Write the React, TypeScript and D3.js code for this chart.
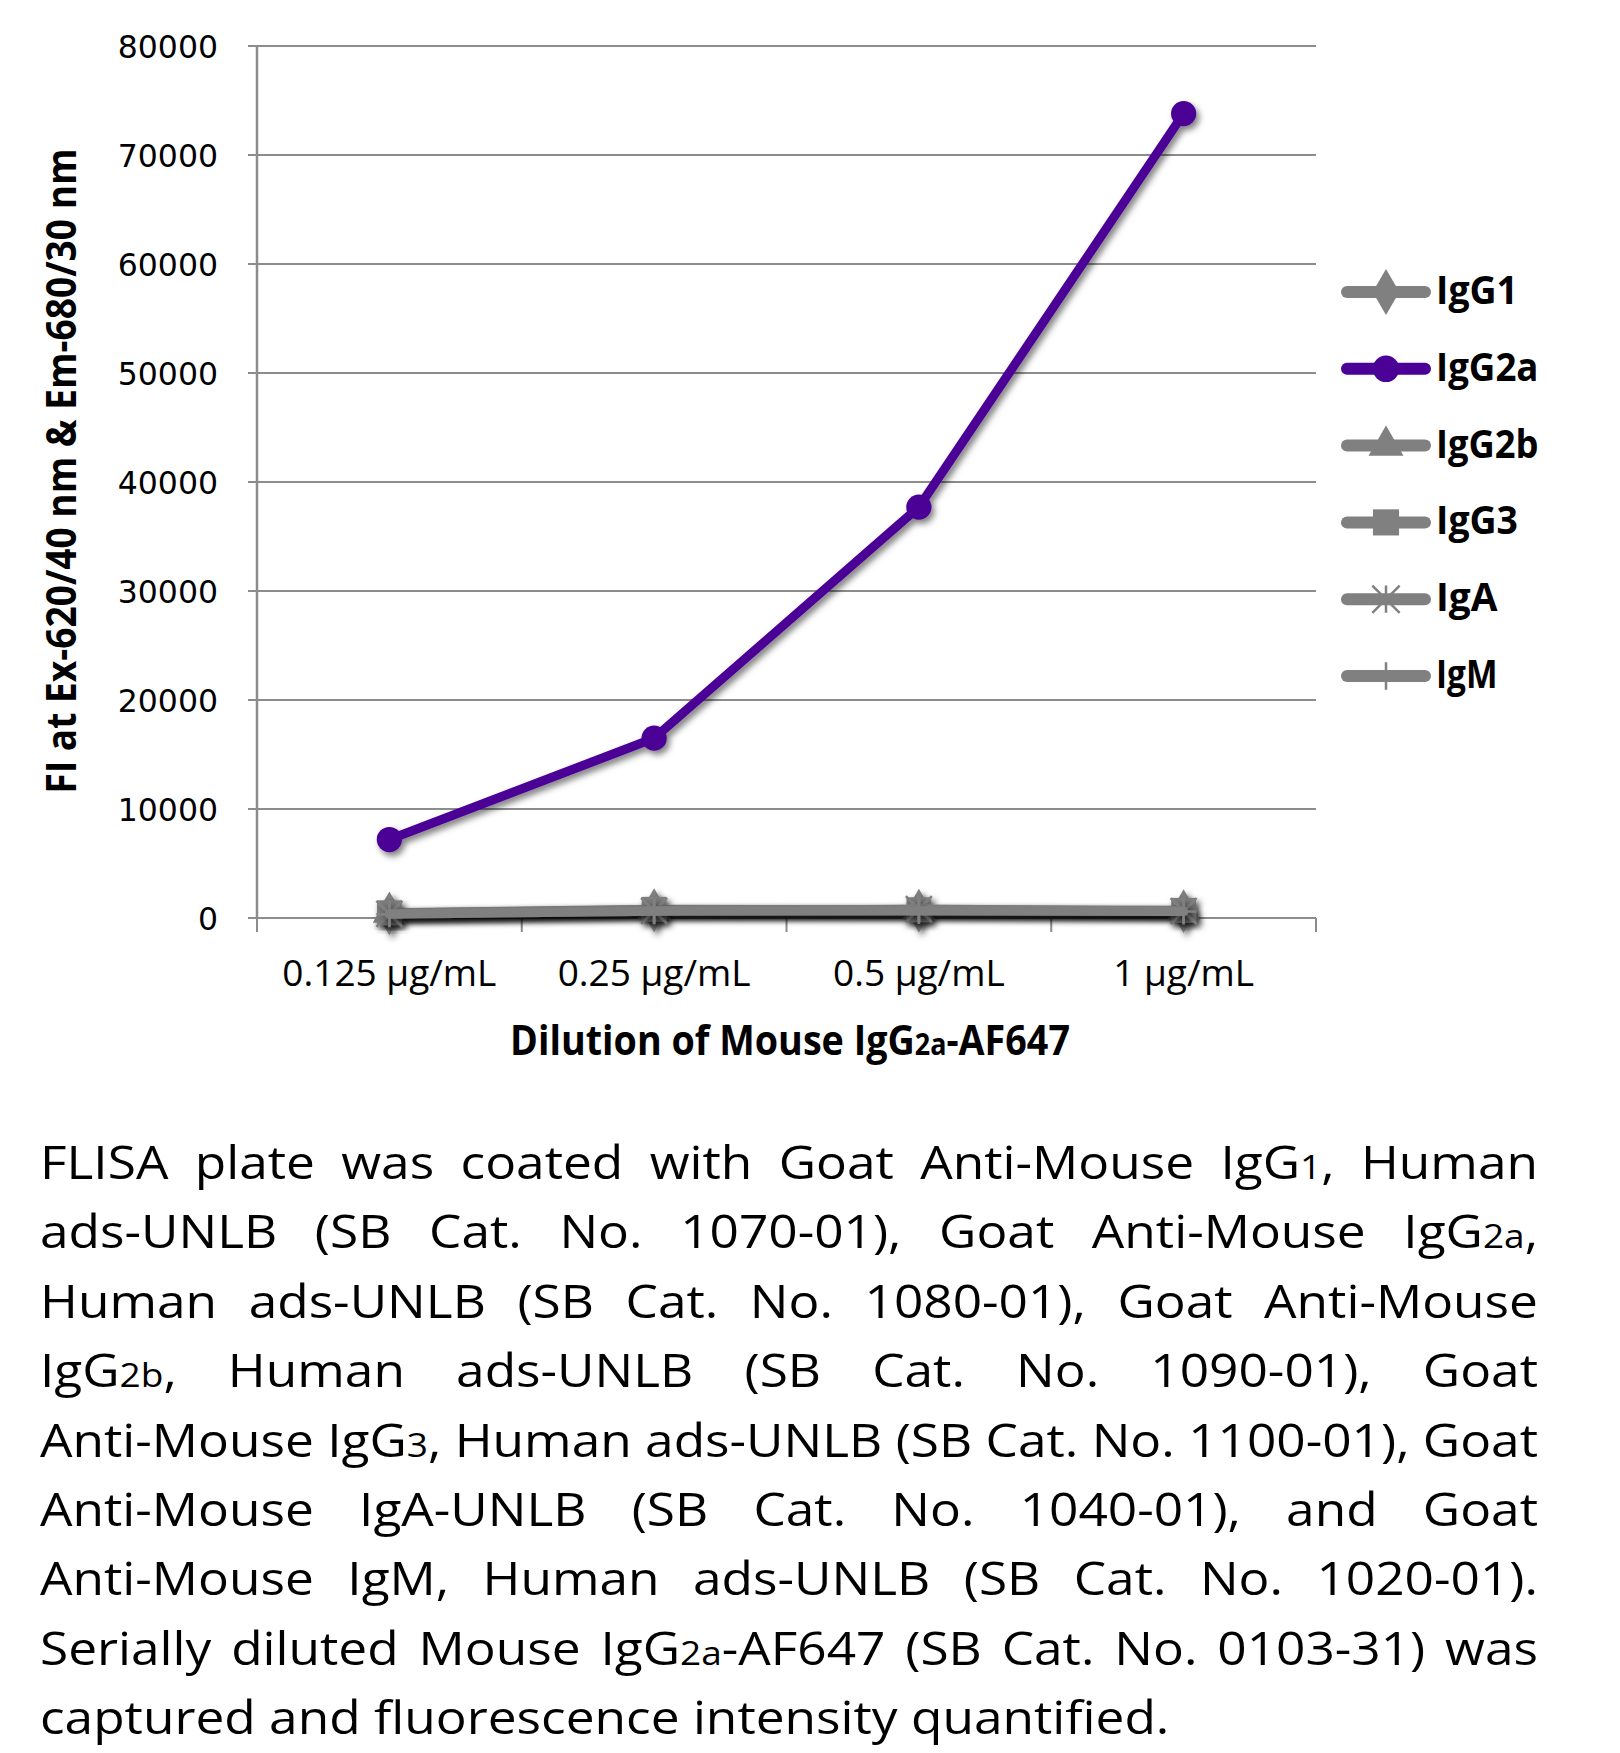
import React, { useEffect, useMemo } from "react";
import * as d3 from "d3";

const categories = ["0.125 µg/mL", "0.25 µg/mL", "0.5 µg/mL", "1 µg/mL"];
const seriesNames = ["IgG1", "IgG2a", "IgG2b", "IgG3", "IgA", "IgM"];
const igG1 = [420, 700, 660, 620];
const igG2a = [7200, 16500, 37700, 73800];
const igG2b = [450, 760, 700, 650];
const igG3 = [480, 800, 760, 700];
const igA = [380, 660, 820, 640];
const igM = [340, 620, 640, 600];
const yTicks = [0, 10000, 20000, 30000, 40000, 50000, 60000, 70000, 80000];
const seriesColors = ["#808080", "#4B0096", "#808080", "#808080", "#808080", "#808080"];
const seriesMarkers = ["diamond", "circle", "triangle", "square", "asterisk", "plus"];

const xTitle = "Dilution of Mouse IgG{2a}-AF647";
const yTitle = "FI at Ex-620/40 nm & Em-680/30 nm";

const captionLines = [
  "FLISA plate was coated with Goat Anti-Mouse IgG{1}, Human",
  "ads-UNLB (SB Cat. No. 1070-01), Goat Anti-Mouse IgG{2a},",
  "Human ads-UNLB (SB Cat. No. 1080-01), Goat Anti-Mouse",
  "IgG{2b}, Human ads-UNLB (SB Cat. No. 1090-01), Goat",
  "Anti-Mouse IgG{3}, Human ads-UNLB (SB Cat. No. 1100-01), Goat",
  "Anti-Mouse IgA-UNLB (SB Cat. No. 1040-01), and Goat",
  "Anti-Mouse IgM, Human ads-UNLB (SB Cat. No. 1020-01).",
  "Serially diluted Mouse IgG{2a}-AF647 (SB Cat. No. 0103-31) was",
  "captured and fluorescence intensity quantified.",
];

const seriesData = [igG1, igG2a, igG2b, igG3, igA, igM];

function parseWord(w: string) {
  const segs: { t: string; small: boolean }[] = [];
  const re = /\{([^}]*)\}/g;
  let last = 0;
  let m;
  while ((m = re.exec(w))) {
    if (m.index > last) segs.push({ t: w.slice(last, m.index), small: false });
    segs.push({ t: m[1], small: true });
    last = m.index + m[0].length;
  }
  if (last < w.length) segs.push({ t: w.slice(last), small: false });
  return segs;
}

function Marker({ type, cx, cy, color, scale = 1 }: any) {
  if (type === "asterisk" || type === "plus") {
    const s = 13 * scale;
    const d =
      type === "asterisk"
        ? `M${-s},${-s}L${s},${s}M${-s},${s}L${s},${-s}M0,${-s}L0,${s}`
        : `M${-s},0L${s},0M0,${-s}L0,${s}`;
    return <path d={d} transform={`translate(${cx},${cy})`} stroke={color} strokeWidth={2.5} fill="none" />;
  }
  const map: any = {
    diamond: [d3.symbolDiamond, 560],
    circle: [d3.symbolCircle, 500],
    triangle: [d3.symbolTriangle, 480],
    square: [d3.symbolSquare, 620],
  };
  const [sym, size] = map[type];
  const p = d3.symbol().type(sym).size(size * scale * scale)();
  return <path d={p || ""} transform={`translate(${cx},${cy})`} fill={color} />;
}

export default function App() {
  useEffect(() => {
    document.body.style.margin = "0";
  }, []);

  const x = d3.scaleBand().domain(categories).range([257, 1316]).padding(0);
  const y = d3.scaleLinear().domain([0, 80000]).range([918, 46]);
  const cxOf = (i: number) => (x(categories[i]) as number) + x.bandwidth() / 2;
  const line = d3
    .line<number>()
    .x((_, i) => cxOf(i))
    .y((d) => y(d));

  const captionFont = '"Open Sans", sans-serif';
  const capSize = 45;
  const capLeft = 40;
  const capRight = 1538;
  const capTop = 1179;
  const capStep = 69.4;

  const measured = useMemo(() => {
    const canvas = document.createElement("canvas");
    const ctx = canvas.getContext("2d") as CanvasRenderingContext2D;
    const meas = (t: string, size: number, bold = false) => {
      ctx.font = `${bold ? "bold " : ""}${size}px ${captionFont}`;
      return ctx.measureText(t).width;
    };
    // caption
    const space = meas(" ", capSize);
    const lines = captionLines.map((l) =>
      l.split(" ").map((w) => {
        const segs = parseWord(w);
        const widths = segs.map((s) => meas(s.t, s.small ? capSize * 0.72 : capSize));
        return { segs, widths, w: widths.reduce((a, b) => a + b, 0) };
      })
    );
    const target = capRight - capLeft;
    const naturals = lines.map((ws) => ws.reduce((a, b) => a + b.w, 0) + space * (ws.length - 1));
    const maxNat = Math.max(...naturals.slice(0, naturals.length - 1));
    let k = target / maxNat;
    k = Math.max(0.8, Math.min(1.15, k));
    const t2 = target / k;
    const capLines = lines.map((ws, li) => {
      const sum = ws.reduce((a, b) => a + b.w, 0);
      const isLast = li === lines.length - 1;
      const gap = isLast ? space : (t2 - sum) / (ws.length - 1);
      let cx = 0;
      return ws.map((w) => {
        const item = { ...w, x: cx };
        cx += w.w + gap;
        return item;
      });
    });
    // x title segments
    const xt = parseWord(xTitle.replace(/ /g, "\u00a0"));
    let acc = 0;
    const xtSegs = xt.map((s) => {
      const size = s.small ? 30 : 42;
      const w = meas(s.t, size, true);
      const item = { ...s, x: acc, size };
      acc += w;
      return item;
    });
    return { k, capLines, xtSegs, xtWidth: acc };
  }, []);

  const legendX0 = 1341;
  const legendX1 = 1431;
  const legendY0 = 292;
  const legendStep = 76.8;

  const xtK = 560 / measured.xtWidth;

  return (
    <svg width={1620} height={1753} style={{ display: "block", background: "#fff" }}>
      <defs>
        <filter id="shadow" x="-20%" y="-20%" width="140%" height="140%">
          <feDropShadow dx="3" dy="4" stdDeviation="3" floodColor="#000" floodOpacity="0.5" />
        </filter>
      </defs>
      {/* gridlines and y ticks */}
      {yTicks.map((t) => (
        <g key={t}>
          <line x1={248} x2={1316} y1={y(t)} y2={y(t)} stroke="#8c8c8c" strokeWidth={2} />
          <text
            x={218}
            y={y(t) + 11.5}
            textAnchor="end"
            fontFamily='"DejaVu Sans", sans-serif'
            fontSize={31.5}
            fill="#000"
          >
            {t}
          </text>
        </g>
      ))}
      {/* y axis */}
      <line x1={257} x2={257} y1={46} y2={918} stroke="#8c8c8c" strokeWidth={2.5} />
      {/* x ticks */}
      {[...categories.map((c) => x(c) as number), 1316].map((v, i) => (
        <line key={i} x1={v} x2={v} y1={918} y2={932} stroke="#8c8c8c" strokeWidth={2} />
      ))}
      {/* x tick labels */}
      {categories.map((c, i) => (
        <text
          key={c}
          x={cxOf(i)}
          y={986}
          textAnchor="middle"
          fontFamily='"Open Sans", sans-serif'
          fontSize={37}
          fill="#000"
        >
          {c}
        </text>
      ))}
      {/* series */}
      {[0, 2, 3, 4, 5, 1].map((si) => (
        <g key={si} filter="url(#shadow)">
          <path
            d={line(seriesData[si]) || ""}
            fill="none"
            stroke={seriesColors[si]}
            strokeWidth={9}
            strokeLinejoin="round"
            strokeLinecap="round"
          />
          {seriesData[si].map((v, i) => (
            <Marker key={i} type={seriesMarkers[si]} cx={cxOf(i)} cy={y(v)} color={seriesColors[si]} />
          ))}
        </g>
      ))}
      {/* legend */}
      {seriesNames.map((n, i) => {
        const ly = legendY0 + i * legendStep;
        return (
          <g key={n}>
            <line
              x1={legendX0 + 6}
              x2={legendX1 - 6}
              y1={ly}
              y2={ly}
              stroke={seriesColors[i]}
              strokeWidth={12}
              strokeLinecap="round"
            />
            <Marker type={seriesMarkers[i]} cx={(legendX0 + legendX1) / 2} cy={ly} color={seriesColors[i]} scale={1.05} />
            <text
              x={1436}
              y={ly + 12}
              fontFamily='"Open Sans", sans-serif'
              fontWeight="bold"
              fontSize={39}
              fill="#000"
              textLength={n.length * 20.5}
              lengthAdjust="spacingAndGlyphs"
            >
              {n}
            </text>
          </g>
        );
      })}
      {/* y title */}
      <text
        transform="translate(76,471) rotate(-90)"
        textAnchor="middle"
        fontFamily='"Open Sans", sans-serif'
        fontWeight="bold"
        fontSize={42}
        fill="#000"
        textLength={645}
        lengthAdjust="spacingAndGlyphs"
      >
        {yTitle}
      </text>
      {/* x title */}
      <g transform={`translate(${790 - 280},1055) scale(${xtK},1)`}>
        <text fontFamily='"Open Sans", sans-serif' fontWeight="bold" fill="#000">
          {measured.xtSegs.map((s, i) => (
            <tspan key={i} x={s.x} y={0} fontSize={s.size}>
              {s.t}
            </tspan>
          ))}
        </text>
      </g>
      {/* caption */}
      {measured.capLines.map((ws, li) => (
        <g key={li} transform={`translate(${capLeft},${capTop + li * capStep}) scale(${measured.k},1)`}>
          {ws.map((w, wi) => (
            <text key={wi} x={w.x} y={0} fontFamily={captionFont} fontSize={capSize} fill="#000">
              {w.segs.map((s, si) =>
                s.small ? (
                  <tspan key={si} fontSize={capSize * 0.72}>
                    {s.t}
                  </tspan>
                ) : (
                  <tspan key={si}>{s.t}</tspan>
                )
              )}
            </text>
          ))}
        </g>
      ))}
    </svg>
  );
}
